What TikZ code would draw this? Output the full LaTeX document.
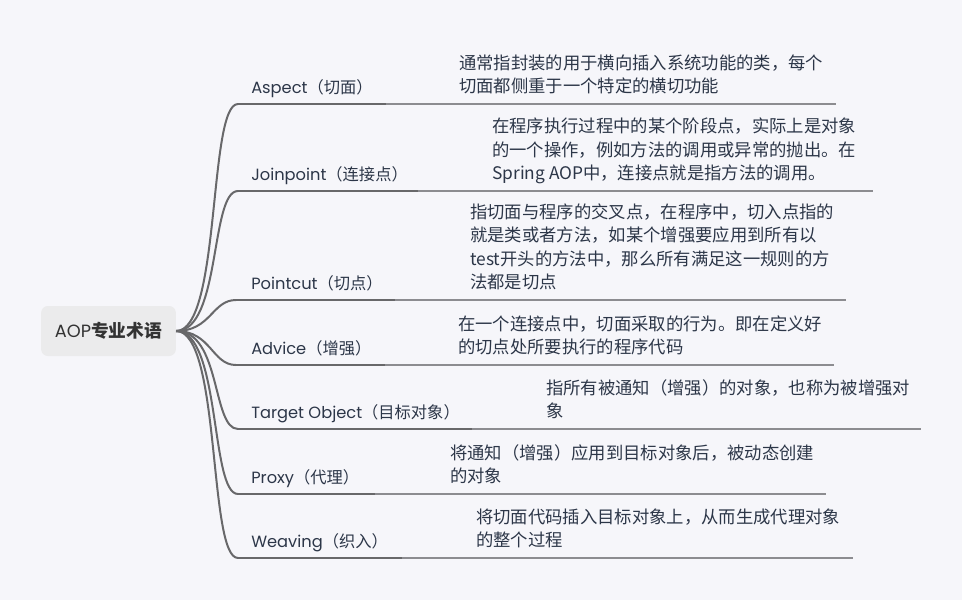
\documentclass[tikz,border=0pt]{standalone}
\usepackage{fontspec}
\setmainfont{Noto Sans CJK SC}
\newfontfamily\geo{Poppins}

\definecolor{bgC}{RGB}{246,246,250}
\definecolor{rootC}{RGB}{235,235,236}
\definecolor{txtC}{RGB}{44,54,72}
\definecolor{lnC}{RGB}{104,104,106}
\definecolor{thinC}{RGB}{140,140,144}

\tikzset{
  rootbox/.style={fill=rootC,rounded corners=5pt,minimum width=101pt,minimum height=37.5pt,inner sep=0pt,text=black!80,font=\fontsize{13.3}{15}\selectfont},
  lbl/.style={anchor=base west,inner sep=0pt,text=txtC,font=\fontsize{12.2}{14}\selectfont},
  desc/.style={anchor=south west,inner sep=0pt,align=left,text depth=0pt,text=txtC,font=\fontsize{13}{17.6}\selectfont},
  branch/.style={draw=lnC,line width=1.5pt},
  topline/.style={draw=lnC,line width=1.7pt},
  restline/.style={draw=thinC,line width=0.9pt}
}

\begin{document}
\begin{tikzpicture}[x=0.75pt,y=-0.75pt]
\fill[bgC] (0,0) rectangle (962,600);
\useasboundingbox (0,0) rectangle (962,600);

\node[rootbox] (root) at (108.5,331) {{\geo AOP}\textbf{专业术语}};


\coordinate (sAsp) at (238,104);
\coordinate (mAsp) at (386,104);
\coordinate (eAsp) at (836,104);
\node[lbl] (lAsp) at (251,93) {{\geo Aspect}（切面）};
\node[desc] (dAsp) at (459,93) {通常指封装的用于横向插入系统功能的类，每个\\切面都侧重于一个特定的横切功能};

\coordinate (sJoin) at (238,191);
\coordinate (mJoin) at (418,191);
\coordinate (eJoin) at (873,191);
\node[lbl] (lJoin) at (251,180) {{\geo Joinpoint}（连接点）};
\node[desc] (dJoin) at (492,180) {在程序执行过程中的某个阶段点，实际上是对象\\的一个操作，例如方法的调用或异常的抛出。在\\Spring AOP中，连接点就是指方法的调用。};

\coordinate (sPc) at (236,300);
\coordinate (mPc) at (395,300);
\coordinate (ePc) at (846,300);
\node[lbl] (lPc) at (251,289) {{\geo Pointcut}（切点）};
\node[desc] (dPc) at (470,289) {指切面与程序的交叉点，在程序中，切入点指的\\就是类或者方法，如某个增强要应用到所有以\\test开头的方法中，那么所有满足这一规则的方\\法都是切点};

\coordinate (sAdv) at (236,365);
\coordinate (mAdv) at (385,365);
\coordinate (eAdv) at (834,365);
\node[lbl] (lAdv) at (251,354) {{\geo Advice}（增强）};
\node[desc] (dAdv) at (458,354) {在一个连接点中，切面采取的行为。即在定义好\\的切点处所要执行的程序代码};

\coordinate (sTgt) at (238,429);
\coordinate (mTgt) at (472,429);
\coordinate (eTgt) at (921,429);
\node[lbl] (lTgt) at (251,418) {{\geo Target Object}（目标对象）};
\node[desc] (dTgt) at (546,418) {指所有被通知（增强）的对象，也称为被增强对\\象};

\coordinate (sPrx) at (238,494);
\coordinate (mPrx) at (375,494);
\coordinate (ePrx) at (826,494);
\node[lbl] (lPrx) at (251,483) {{\geo Proxy}（代理）};
\node[desc] (dPrx) at (450,483) {将通知（增强）应用到目标对象后，被动态创建\\的对象};

\coordinate (sWv) at (238,558);
\coordinate (mWv) at (402,558);
\coordinate (eWv) at (853,558);
\node[lbl] (lWv) at (251,547) {{\geo Weaving}（织入）};
\node[desc] (dWv) at (476,547) {将切面代码插入目标对象上，从而生成代理对象\\的整个过程};


\draw[branch] (root.east) .. controls +(45,0) and +(-30,0) .. (sAsp);
\draw[branch] (root.east) .. controls +(45,0) and +(-28,0) .. (sJoin);
\draw[branch] (root.east) .. controls +(35,0) and +(-24,0) .. (sPc);
\draw[branch] (root.east) .. controls +(35,0) and +(-24,0) .. (sAdv);
\draw[branch] (root.east) .. controls +(45,0) and +(-26,0) .. (sTgt);
\draw[branch] (root.east) .. controls +(45,0) and +(-28,0) .. (sPrx);
\draw[branch] (root.east) .. controls +(45,0) and +(-30,0) .. (sWv);

\draw[restline] (mAsp) -- (eAsp);
\draw[restline] (mJoin) -- (eJoin);
\draw[restline] (mPc) -- (ePc);
\draw[restline] (mAdv) -- (eAdv);
\draw[restline] (mTgt) -- (eTgt);
\draw[restline] (mPrx) -- (ePrx);
\draw[restline] (mWv) -- (eWv);

  \draw[topline] (sAsp) -- (mAsp);
  \draw[topline] (sJoin) -- (mJoin);
  \draw[topline] (sPc) -- (mPc);
  \draw[topline] (sAdv) -- (mAdv);
  \draw[topline] (sTgt) -- (mTgt);
  \draw[topline] (sPrx) -- (mPrx);
  \draw[topline] (sWv) -- (mWv);

\end{tikzpicture}
\end{document}
